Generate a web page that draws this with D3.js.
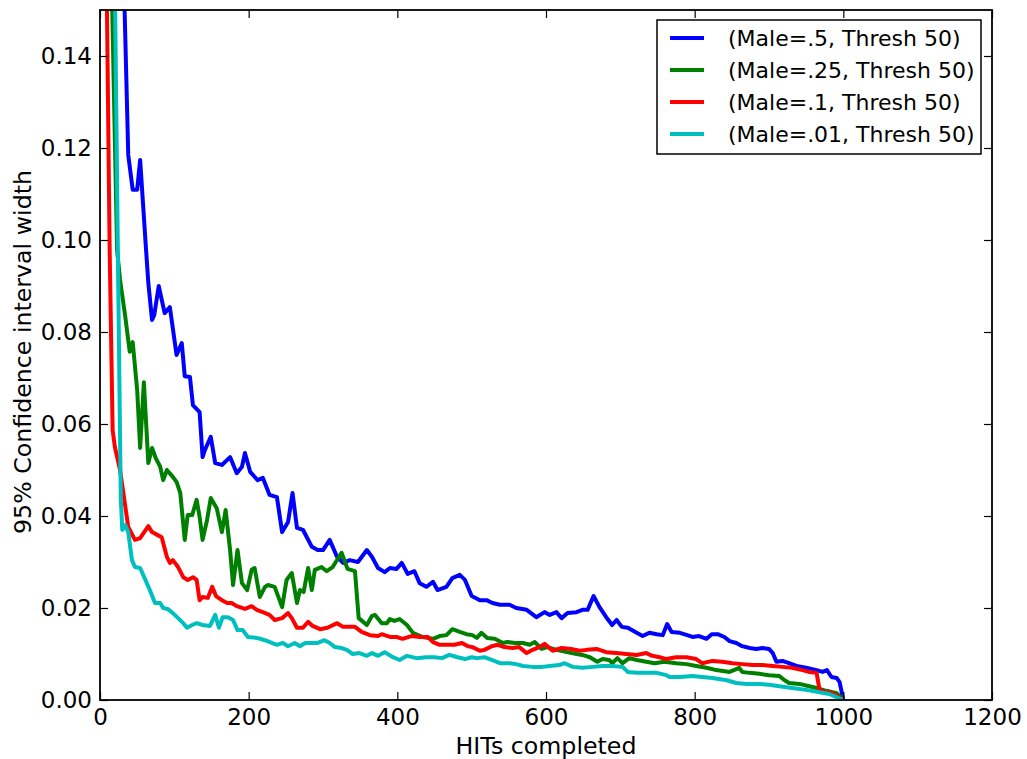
<!DOCTYPE html>
<html>
<head>
<meta charset="utf-8">
<script src="https://cdn.jsdelivr.net/npm/d3@7"></script>
<style>
  body { margin: 0; background: #fff; }
  text { font-family: "DejaVu Sans", sans-serif; }
</style>
</head>
<body>
<svg id="chart" width="1027" height="759"></svg>
<script>
// series: [HITs completed, 95% CI width]
const male50 = [[30,0.17],[38,0.1185],[44,0.1109],[50,0.1109],[54,0.1174],[62,0.0978],[65,0.0907],[70,0.0826],[73,0.0837],[79,0.0900],[87,0.0841],[94,0.0854],[103,0.0750],[110,0.0776],[114,0.0704],[121,0.0702],[125,0.0641],[134,0.0626],[138,0.0528],[141,0.0543],[149,0.0572],[155,0.0515],[164,0.0511],[175,0.0528],[184,0.0493],[191,0.0507],[195,0.0537],[202,0.0496],[212,0.0478],[219,0.0483],[228,0.0446],[238,0.0441],[245,0.0365],[253,0.0387],[259,0.0450],[265,0.0374],[273,0.0370],[285,0.0333],[293,0.0326],[300,0.0326],[309,0.0348],[319,0.0311],[327,0.0298],[336,0.0304],[347,0.0300],[359,0.0326],[366,0.0311],[374,0.0287],[383,0.0278],[390,0.0287],[399,0.0285],[406,0.0298],[414,0.0274],[423,0.0280],[430,0.0254],[439,0.0246],[448,0.0257],[454,0.0239],[466,0.0246],[474,0.0265],[484,0.0272],[491,0.0261],[500,0.0226],[511,0.0217],[520,0.0217],[528,0.0211],[538,0.0207],[551,0.0207],[560,0.0200],[574,0.0196],[587,0.0180],[598,0.0191],[605,0.0185],[614,0.0191],[621,0.0178],[629,0.0189],[641,0.0191],[649,0.0196],[656,0.0196],[664,0.0226],[672,0.0202],[681,0.0180],[689,0.0163],[695,0.0174],[702,0.0159],[710,0.0157],[722,0.0146],[730,0.0139],[739,0.0146],[749,0.0143],[757,0.0141],[763,0.0165],[769,0.0148],[780,0.0146],[790,0.0141],[797,0.0137],[806,0.0139],[816,0.0133],[823,0.0143],[831,0.0143],[840,0.0137],[847,0.0128],[856,0.0124],[864,0.0117],[874,0.0113],[883,0.0111],[891,0.0113],[900,0.0111],[905,0.0102],[910,0.0083],[918,0.0085],[927,0.0080],[937,0.0074],[950,0.0070],[964,0.0065],[972,0.0061],[978,0.0065],[984,0.0050],[991,0.0048],[995,0.0039],[1000,0.0]];

const male25 = [[14,0.17],[23,0.0978],[27,0.0913],[34,0.0833],[40,0.0757],[44,0.0778],[50,0.0674],[54,0.0548],[59,0.0691],[65,0.0515],[70,0.0548],[75,0.0526],[81,0.0507],[85,0.0478],[90,0.0500],[98,0.0485],[103,0.0474],[108,0.0450],[114,0.0348],[118,0.0402],[124,0.0402],[130,0.0435],[134,0.0398],[138,0.0348],[144,0.0391],[149,0.0439],[157,0.0417],[164,0.0365],[169,0.0413],[175,0.0326],[179,0.0250],[185,0.0326],[191,0.0254],[198,0.0239],[204,0.0283],[208,0.0287],[215,0.0224],[222,0.0246],[226,0.0250],[235,0.0246],[245,0.0202],[251,0.0261],[258,0.0276],[265,0.0211],[269,0.0239],[274,0.0235],[280,0.0287],[285,0.0239],[289,0.0283],[298,0.0289],[305,0.0280],[313,0.0289],[325,0.0320],[333,0.0285],[343,0.0280],[348,0.0178],[359,0.0163],[366,0.0183],[370,0.0185],[379,0.0167],[386,0.0167],[390,0.0176],[396,0.0172],[403,0.0176],[413,0.0163],[421,0.0146],[434,0.0137],[448,0.0133],[457,0.0139],[466,0.0141],[474,0.0154],[484,0.0148],[493,0.0143],[501,0.0141],[507,0.0135],[513,0.0146],[521,0.0135],[531,0.0133],[542,0.0124],[548,0.0126],[558,0.0124],[569,0.0124],[578,0.0120],[585,0.0126],[594,0.0111],[602,0.0115],[614,0.0109],[628,0.0104],[641,0.0100],[649,0.0098],[659,0.0093],[669,0.0083],[676,0.0089],[685,0.0087],[689,0.0080],[696,0.0091],[703,0.0080],[712,0.0091],[722,0.0087],[735,0.0083],[746,0.0080],[759,0.0083],[775,0.0080],[789,0.0078],[802,0.0074],[816,0.0070],[829,0.0065],[847,0.0061],[860,0.0070],[864,0.0061],[874,0.0059],[887,0.0057],[900,0.0054],[914,0.0052],[921,0.0043],[927,0.0037],[941,0.0035],[954,0.0030],[964,0.0026],[977,0.0020],[991,0.0015],[1000,0.0]];

const male10 = [[8,0.17],[13,0.0978],[17,0.0587],[20,0.0550],[27,0.0500],[38,0.0376],[47,0.0348],[54,0.0352],[65,0.0378],[70,0.0365],[77,0.0359],[83,0.0354],[90,0.0311],[94,0.0298],[98,0.0304],[105,0.0289],[112,0.0267],[118,0.0261],[125,0.0267],[130,0.0261],[134,0.0217],[138,0.0224],[145,0.0222],[151,0.0246],[156,0.0226],[164,0.0217],[171,0.0211],[177,0.0211],[184,0.0204],[195,0.0198],[204,0.0204],[211,0.0196],[219,0.0191],[228,0.0185],[235,0.0174],[245,0.0178],[253,0.0189],[258,0.0178],[265,0.0157],[273,0.0157],[280,0.0170],[286,0.0161],[296,0.0154],[306,0.0157],[319,0.0167],[327,0.0159],[343,0.0159],[352,0.0148],[363,0.0141],[374,0.0139],[379,0.0143],[390,0.0137],[399,0.0137],[407,0.0133],[419,0.0139],[430,0.0137],[441,0.0137],[448,0.0126],[457,0.0120],[477,0.0120],[487,0.0124],[495,0.0117],[501,0.0115],[511,0.0107],[517,0.0109],[527,0.0117],[535,0.0120],[544,0.0115],[555,0.0113],[564,0.0115],[574,0.0102],[582,0.0109],[591,0.0115],[598,0.0122],[609,0.0107],[621,0.0113],[634,0.0111],[645,0.0107],[655,0.0109],[668,0.0111],[681,0.0104],[695,0.0102],[708,0.0100],[722,0.0098],[735,0.0102],[743,0.0096],[753,0.0093],[762,0.0089],[775,0.0093],[789,0.0093],[802,0.0089],[810,0.0080],[824,0.0085],[837,0.0083],[851,0.0080],[864,0.0078],[878,0.0076],[891,0.0076],[905,0.0074],[918,0.0072],[931,0.0070],[945,0.0065],[954,0.0061],[964,0.0059],[968,0.0022],[977,0.0017],[985,0.0015],[1000,0.0]];

const male01 = [[19,0.17],[24,0.0978],[28,0.0435],[30,0.0370],[34,0.0380],[38,0.0365],[43,0.0304],[47,0.0289],[54,0.0287],[60,0.0265],[67,0.0239],[74,0.0211],[81,0.0211],[85,0.0200],[91,0.0198],[98,0.0189],[105,0.0178],[112,0.0167],[117,0.0157],[124,0.0163],[130,0.0167],[138,0.0163],[148,0.0161],[155,0.0185],[160,0.0157],[165,0.0180],[172,0.0180],[179,0.0174],[185,0.0152],[192,0.0152],[199,0.0137],[211,0.0135],[222,0.0130],[231,0.0124],[238,0.0120],[246,0.0124],[253,0.0117],[262,0.0124],[269,0.0117],[276,0.0124],[285,0.0124],[293,0.0124],[302,0.0130],[309,0.0124],[316,0.0115],[325,0.0113],[332,0.0109],[340,0.0100],[349,0.0102],[359,0.0096],[366,0.0102],[374,0.0096],[383,0.0104],[394,0.0093],[403,0.0087],[413,0.0096],[426,0.0091],[439,0.0093],[450,0.0093],[460,0.0091],[470,0.0098],[481,0.0093],[491,0.0089],[500,0.0093],[507,0.0091],[517,0.0093],[527,0.0087],[538,0.0080],[551,0.0080],[560,0.0078],[569,0.0074],[582,0.0072],[595,0.0072],[605,0.0074],[618,0.0076],[625,0.0080],[636,0.0072],[649,0.0070],[663,0.0072],[676,0.0074],[689,0.0074],[703,0.0072],[710,0.0061],[722,0.0059],[749,0.0059],[762,0.0054],[766,0.0050],[780,0.0050],[797,0.0052],[810,0.0050],[824,0.0048],[843,0.0043],[856,0.0037],[870,0.0035],[887,0.0035],[900,0.0033],[914,0.0030],[931,0.0026],[950,0.0022],[968,0.0017],[981,0.0013],[1000,0.0]];

const seriesNames = ["(Male=.5, Thresh 50)", "(Male=.25, Thresh 50)", "(Male=.1, Thresh 50)", "(Male=.01, Thresh 50)"];
const seriesColors = ["#0000ff", "#008000", "#ff0000", "#00bfbf"];
const xTicks = [0, 200, 400, 600, 800, 1000, 1200];
const yTicks = [0, 0.02, 0.04, 0.06, 0.08, 0.10, 0.12, 0.14];

const allSeries = [male50, male25, male10, male01];

const svg = d3.select("#chart");
const margin = { top: 10, right: 35, bottom: 59, left: 100 };
const width = +svg.attr("width") - margin.left - margin.right;
const height = +svg.attr("height") - margin.top - margin.bottom;

const g = svg.append("g")
    .attr("transform", `translate(${margin.left},${margin.top})`);

const x = d3.scaleLinear().domain([0, 1200]).range([0, width]);
const y = d3.scaleLinear().domain([0, 0.15]).range([height, 0]);

g.append("clipPath").attr("id", "clip")
  .append("rect").attr("width", width).attr("height", height);

const line = d3.line().x(d => x(d[0])).y(d => y(d[1]));

g.append("g").attr("clip-path", "url(#clip)")
  .selectAll("path")
  .data(allSeries)
  .enter()
  .append("path")
    .attr("d", line)
    .attr("fill", "none")
    .attr("stroke", (d, i) => seriesColors[i])
    .attr("stroke-width", 4)
    .attr("stroke-linejoin", "round");

// axes, ticks pointing inwards on all four sides
const tickFs = "23px";
const labelFs = "23.7px";
function styleAxis(sel) {
  sel.select(".domain").remove();
  sel.selectAll(".tick line").attr("stroke", "#000").attr("stroke-width", 1.2);
  sel.selectAll("text").attr("fill", "#000").style("font-size", tickFs).style("font-family", "DejaVu Sans");
}

g.append("g")
  .attr("transform", `translate(0,${height})`)
  .call(d3.axisBottom(x).tickValues(xTicks).tickSize(-8).tickPadding(9).tickFormat(d3.format("d")))
  .call(styleAxis);

g.append("g")
  .call(d3.axisTop(x).tickValues(xTicks).tickSize(-8).tickFormat(""))
  .call(styleAxis);

g.append("g")
  .call(d3.axisLeft(y).tickValues(yTicks).tickSize(-8).tickPadding(8).tickFormat(d3.format(".2f")))
  .call(styleAxis);

g.append("g")
  .attr("transform", `translate(${width},0)`)
  .call(d3.axisRight(y).tickValues(yTicks).tickSize(-8).tickFormat(""))
  .call(styleAxis);

g.append("rect")
  .attr("width", width).attr("height", height)
  .attr("fill", "none").attr("stroke", "#000").attr("stroke-width", 1.8);

// axis labels
svg.append("text")
  .attr("x", margin.left + width / 2)
  .attr("y", 754)
  .attr("text-anchor", "middle")
  .style("font-size", labelFs)
  .text("HITs completed");

svg.append("text")
  .attr("transform", `translate(31,${margin.top + height / 2 - 3}) rotate(-90)`)
  .attr("text-anchor", "middle")
  .style("font-size", labelFs)
  .text("95% Confidence interval width");

// legend
const legend = svg.append("g").attr("transform", "translate(657,20)");
legend.append("rect")
  .attr("width", 324).attr("height", 134)
  .attr("fill", "#fff").attr("stroke", "#000").attr("stroke-width", 1.5);

const items = legend.selectAll(".item")
  .data(seriesNames)
  .enter()
  .append("g")
  .attr("class", "item")
  .attr("transform", (d, i) => `translate(0,${18 + i * 32})`);

items.append("line")
  .attr("x1", 13).attr("x2", 47)
  .attr("stroke", (d, i) => seriesColors[i])
  .attr("stroke-width", 4);

items.append("text")
  .attr("x", 71).attr("y", 8)
  .style("font-size", "22px")
  .text(d => d);
</script>
</body>
</html>
